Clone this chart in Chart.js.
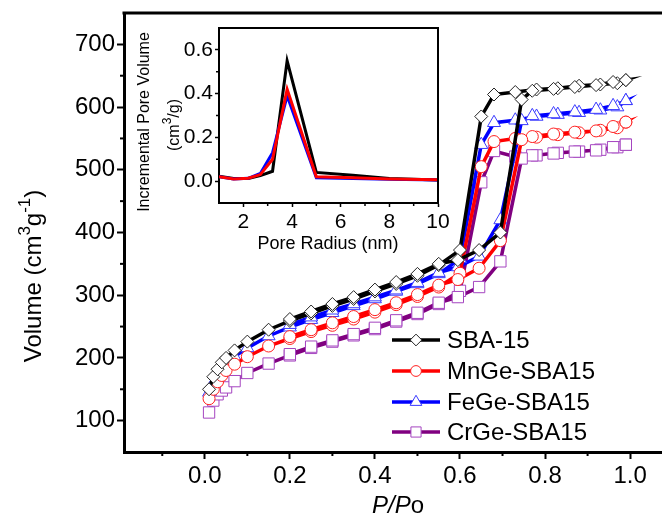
<!DOCTYPE html>
<html>
<head>
<meta charset="utf-8">
<script src="https://cdn.jsdelivr.net/npm/chart.js@4.4.1/dist/chart.umd.min.js"></script>
<style>
    body { margin: 0; background: #fff; }
    #wrap { position: relative; width: 662px; height: 523px; }
    #main { position: absolute; left: 0; top: 0; }
    #inset { position: absolute; left: 125px; top: 15px; }
</style>
</head>
<body>
<div id="wrap">
    <canvas id="main" width="662" height="523"></canvas>
    <canvas id="inset" width="325" height="245"></canvas>
</div>
<script>
// isotherm pressures (adsorption up, desorption back down)
const adsP = [0.01, 0.02, 0.03, 0.04, 0.05, 0.07, 0.10, 0.15, 0.20, 0.25, 0.30, 0.35, 0.40, 0.45, 0.50, 0.55, 0.60, 0.65, 0.68, 0.73, 0.78, 0.83, 0.88, 0.93, 0.97, 0.99];
const desP = [0.99, 0.96, 0.92, 0.87, 0.82, 0.77, 0.745, 0.695, 0.645, 0.595, 0.55, 0.50, 0.45, 0.40, 0.35, 0.30, 0.25, 0.20];

const sbaAds = [150, 170, 182, 193, 200, 212, 226, 245, 259, 271, 283, 294, 306, 318, 331, 348, 372, 585, 620, 624, 628, 630, 634, 636, 638, 643];
const sbaDes = [643, 640, 635, 632, 629, 626, 612, 400, 372, 356, 350, 334, 321, 309, 297, 286, 274, 262];
const mnAds = [135, 150, 162, 172, 180, 190, 202, 219, 231, 242, 252, 262, 273, 285, 298, 313, 335, 505, 545, 550, 552, 556, 559, 563, 567, 576];
const mnDes = [576, 569, 562, 560, 557, 553, 548, 387, 343, 325, 316, 301, 288, 277, 266, 256, 245, 234];
const feAds = [145, 160, 173, 184, 191, 202, 216, 235, 249, 261, 272, 283, 294, 306, 318, 334, 358, 540, 575, 579, 585, 588, 591, 595, 600, 610];
const feDes = [610, 602, 596, 592, 589, 586, 578, 420, 362, 345, 336, 320, 308, 297, 286, 276, 265, 253];
const crAds = [113, 132, 142, 148, 153, 163, 176, 191, 204, 216, 226, 236, 246, 258, 270, 286, 307, 480, 530, 521, 523, 527, 529, 532, 536, 540];
const crDes = [540, 536, 531, 529, 526, 523, 518, 354, 313, 297, 288, 272, 260, 248, 238, 228, 218, 206];

const xTicks = [0.0, 0.2, 0.4, 0.6, 0.8, 1.0];
const yTicks = [100, 200, 300, 400, 500, 600, 700];

// inset: pore size distribution
const poreR = [1.0, 1.6, 2.2, 2.7, 3.2, 3.8, 5.0, 6.5, 8.0, 10.0];
const sbaPore = [0.022, 0.012, 0.012, 0.025, 0.045, 0.55, 0.04, 0.027, 0.012, 0.005];
const fePore = [0.02, 0.01, 0.013, 0.035, 0.13, 0.39, 0.015, 0.012, 0.008, 0.005];
const mnPore = [0.02, 0.01, 0.013, 0.03, 0.10, 0.42, 0.02, 0.015, 0.01, 0.006];
const insetXTicks = [2, 4, 6, 8, 10];
const insetYTicks = [0.0, 0.2, 0.4, 0.6];

const FONT = "'Liberation Sans', Arial, sans-serif";
Chart.defaults.font.family = FONT;
Chart.defaults.color = '#000';

const series = [
    { label: 'SBA-15', ads: sbaAds, des: sbaDes, line: '#000000', edge: '#222222', shape: 'rectRot', r: 6.5 },
    { label: 'MnGe-SBA15', ads: mnAds, des: mnDes, line: '#ff0000', edge: '#ff2020', shape: 'circle', r: 6 },
    { label: 'FeGe-SBA15', ads: feAds, des: feDes, line: '#0000ff', edge: '#3a3aff', shape: 'triangle', r: 7.5 },
    { label: 'CrGe-SBA15', ads: crAds, des: crDes, line: '#800080', edge: '#a545c0', shape: 'rect', r: 8 }
];

function toPoints(xs, ys) {
    return xs.map((x, i) => ({ x: x, y: ys[i] }));
}

function drawRich(ctx, parts, cx, cy, rot) {
    let total = 0;
    parts.forEach(p => { ctx.font = p.font; total += ctx.measureText(p.t).width; });
    ctx.save();
    ctx.translate(cx, cy);
    ctx.rotate(rot);
    ctx.textBaseline = 'alphabetic';
    ctx.textAlign = 'left';
    ctx.fillStyle = '#000';
    let x = -total / 2;
    parts.forEach(p => {
        ctx.font = p.font;
        ctx.fillText(p.t, x, p.dy);
        x += ctx.measureText(p.t).width;
    });
    ctx.restore();
}

function minorTicks(ctx, chart, xs, ys, len, width) {
    const area = chart.chartArea;
    ctx.save();
    ctx.strokeStyle = '#000';
    ctx.lineWidth = width;
    xs.forEach(v => {
        const px = chart.scales.x.getPixelForValue(v);
        ctx.beginPath();
        ctx.moveTo(px, area.bottom);
        ctx.lineTo(px, area.bottom + len);
        ctx.stroke();
    });
    ys.forEach(v => {
        const py = chart.scales.y.getPixelForValue(v);
        ctx.beginPath();
        ctx.moveTo(area.left, py);
        ctx.lineTo(area.left - len, py);
        ctx.stroke();
    });
    ctx.restore();
}

// keep the plot box where the figure has it, whatever the label sizes
function fixBox(size, key) {
    return s => {
        s[key] = size;
        s.paddingLeft = 0;
        s.paddingRight = 0;
        s.paddingTop = 0;
        s.paddingBottom = 0;
    };
}

const mainDecor = {
    id: 'mainDecor',
    afterDraw(chart) {
        const ctx = chart.ctx;
        const area = chart.chartArea;
        // top frame
        ctx.save();
        ctx.strokeStyle = '#000';
        ctx.lineWidth = 3;
        ctx.beginPath();
        ctx.moveTo(area.left - 1.5, area.top);
        ctx.lineTo(chart.width, area.top);
        ctx.stroke();
        ctx.restore();

        const xMinor = xTicks.map(v => v - 0.1).concat([1.1]).filter(v => v > chart.scales.x.min && v < chart.scales.x.max);
        const yMinor = yTicks.map(v => v - 50).concat([750]).filter(v => v > chart.scales.y.min && v < chart.scales.y.max);
        minorTicks(ctx, chart, xMinor, yMinor, 4, 2);

        // axis titles
        drawRich(ctx, [
            { t: 'Volume (cm', font: '24px ' + FONT, dy: 8 },
            { t: '3', font: '17px ' + FONT, dy: -3 },
            { t: 'g', font: '24px ' + FONT, dy: 8 },
            { t: '-1', font: '17px ' + FONT, dy: -3 },
            { t: ')', font: '24px ' + FONT, dy: 8 }
        ], 33, 276, -Math.PI / 2);
        drawRich(ctx, [
            { t: 'P/P', font: 'italic 24px ' + FONT, dy: 8 },
            { t: 'o', font: '24px ' + FONT, dy: 8 }
        ], 398, 505, 0);

        // legend
        const rowY = [340, 371, 402, 432];
        series.forEach((s, i) => {
            const y = rowY[i];
            ctx.save();
            ctx.strokeStyle = s.line;
            ctx.lineWidth = 3.5;
            ctx.beginPath();
            ctx.moveTo(392, y);
            ctx.lineTo(440, y);
            ctx.stroke();
            ctx.fillStyle = '#fff';
            ctx.strokeStyle = s.edge;
            ctx.lineWidth = 1;
            Chart.helpers.drawPoint(ctx, { pointStyle: s.shape, radius: s.r * 0.9, rotation: 0, borderWidth: 1 }, 416, y);
            ctx.fillStyle = '#000';
            ctx.font = '24px ' + FONT;
            ctx.textBaseline = 'middle';
            ctx.textAlign = 'left';
            ctx.fillText(s.label, 447, y + 1);
            ctx.restore();
        });
    }
};

new Chart(document.getElementById('main'), {
    type: 'scatter',
    data: {
        datasets: series.map(s => ({
            label: s.label,
            data: toPoints(adsP.concat(desP), s.ads.concat(s.des)),
            showLine: true,
            borderColor: s.line,
            borderWidth: 3.5,
            pointStyle: s.shape,
            pointRadius: s.r,
            pointBorderWidth: 1,
            pointBorderColor: s.edge,
            pointBackgroundColor: '#ffffff',
            tension: 0
        }))
    },
    options: {
        responsive: false,
        animation: false,
        devicePixelRatio: 1,
        layout: { autoPadding: false, padding: { top: 13, right: 0, left: 0, bottom: 0 } },
        plugins: { legend: { display: false }, tooltip: { enabled: false } },
        scales: {
            x: {
                type: 'linear',
                min: -0.19,
                max: 1.075,
                afterBuildTicks: s => { s.ticks = xTicks.map(v => ({ value: v })); },
                afterFit: fixBox(71, 'height'),
                ticks: { font: { size: 24 }, padding: 3, maxRotation: 0, autoSkip: false, callback: v => v.toFixed(1) },
                grid: { drawOnChartArea: false, tickLength: 7, tickWidth: 2, tickColor: '#000' },
                border: { width: 3, color: '#000' }
            },
            y: {
                type: 'linear',
                min: 50,
                max: 750,
                afterBuildTicks: s => { s.ticks = yTicks.map(v => ({ value: v })); },
                afterFit: fixBox(124, 'width'),
                ticks: { font: { size: 24 }, padding: 2, autoSkip: false },
                grid: { drawOnChartArea: false, tickLength: 7, tickWidth: 2, tickColor: '#000' },
                border: { width: 3, color: '#000' }
            }
        }
    },
    plugins: [mainDecor]
});

const insetDecor = {
    id: 'insetDecor',
    afterDraw(chart) {
        const ctx = chart.ctx;
        const area = chart.chartArea;
        ctx.save();
        ctx.strokeStyle = '#000';
        ctx.lineWidth = 2;
        ctx.beginPath();
        ctx.moveTo(area.left - 1, area.top);
        ctx.lineTo(area.right, area.top);
        ctx.lineTo(area.right, area.bottom + 1);
        ctx.stroke();
        ctx.restore();

        const xMinor = insetXTicks.map(v => v - 1);
        const yMinor = insetYTicks.map(v => v - 0.1).concat([0.7]).filter(v => v > -0.1 && v < 0.7);
        minorTicks(ctx, chart, xMinor.filter(v => v > 1), yMinor, 3, 1.5);

        drawRich(ctx, [{ t: 'Incremental Pore Volume', font: '16px ' + FONT, dy: 6 }], 18, 107, -Math.PI / 2);
        drawRich(ctx, [
            { t: '(cm', font: '16px ' + FONT, dy: 6 },
            { t: '3', font: '12px ' + FONT, dy: -2 },
            { t: '/g)', font: '16px ' + FONT, dy: 6 }
        ], 48, 110, -Math.PI / 2);
        drawRich(ctx, [{ t: 'Pore Radius (nm)', font: '18px ' + FONT, dy: 6 }], 203, 228, 0);
    }
};

const insetSeries = [
    { values: mnPore, color: '#ff0000' },
    { values: fePore, color: '#0000ff' },
    { values: sbaPore, color: '#000000' }
];

new Chart(document.getElementById('inset'), {
    type: 'scatter',
    data: {
        datasets: insetSeries.map(s => ({
            data: toPoints(poreR, s.values),
            showLine: true,
            borderColor: s.color,
            borderWidth: 3,
            pointRadius: 0,
            tension: 0
        }))
    },
    options: {
        responsive: false,
        animation: false,
        devicePixelRatio: 1,
        layout: { autoPadding: false, padding: { top: 13, right: 12, left: 0, bottom: 0 } },
        plugins: { legend: { display: false }, tooltip: { enabled: false } },
        scales: {
            x: {
                type: 'linear',
                min: 1,
                max: 10,
                afterBuildTicks: s => { s.ticks = insetXTicks.map(v => ({ value: v })); },
                afterFit: fixBox(57, 'height'),
                ticks: { font: { size: 21 }, padding: 3, maxRotation: 0, autoSkip: false },
                grid: { drawOnChartArea: false, tickLength: 4, tickWidth: 1.5, tickColor: '#000' },
                border: { width: 2, color: '#000' }
            },
            y: {
                type: 'linear',
                min: -0.1,
                max: 0.7,
                afterBuildTicks: s => { s.ticks = insetYTicks.map(v => ({ value: v })); },
                afterFit: fixBox(94, 'width'),
                ticks: { font: { size: 21 }, padding: 2, autoSkip: false, callback: v => v.toFixed(1) },
                grid: { drawOnChartArea: false, tickLength: 4, tickWidth: 1.5, tickColor: '#000' },
                border: { width: 2, color: '#000' }
            }
        }
    },
    plugins: [insetDecor]
});
</script>
</body>
</html>
